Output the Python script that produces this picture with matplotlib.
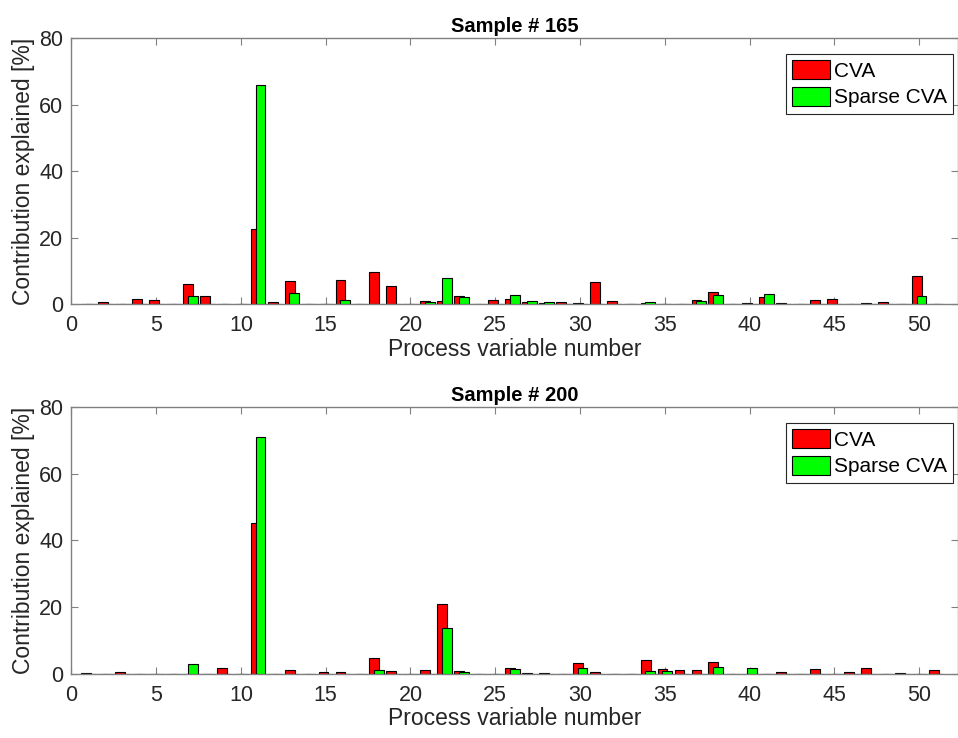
import numpy as np
import matplotlib
matplotlib.use("Agg")
import matplotlib.pyplot as plt

plt.rcParams.update({"font.family": ["Liberation Sans", "DejaVu Sans"], "font.size": 12})

variables = np.arange(1, 52)

# sample 165 (variables 1..51)
cva_165 = [0, 0.7, 0, 1.6, 1.1, 0, 6.0, 2.4, 0, 0,
           22.5, 0.6, 7.0, 0, 0, 7.2, 0, 9.5, 5.4, 0,
           1.0, 1.0, 2.3, 0, 1.1, 1.4, 0.5, 0.4, 0.6, 0.2,
           6.6, 1.0, 0, 0.2, 0, 0, 1.3, 3.7, 0, 0.3,
           2.2, 0.4, 0, 1.1, 1.5, 0, 0.4, 0.6, 0, 8.5,
           0]
scva_165 = [0, 0, 0, 0, 0, 0, 2.3, 0, 0, 0,
            65.8, 0, 3.4, 0, 0, 1.1, 0, 0, 0, 0,
            0.6, 7.8, 2.1, 0, 0, 2.7, 1.0, 0.5, 0, 0,
            0, 0, 0, 0.7, 0, 0, 1.0, 2.7, 0, 0,
            3.1, 0, 0, 0, 0, 0, 0, 0, 0, 2.5,
            0]

# sample 200
cva_200 = [0.3, 0, 0.4, 0, 0, 0, 0, 0, 1.8, 0,
           45.2, 0, 1.0, 0, 0.4, 0.5, 0, 4.6, 0.7, 0,
           1.1, 21.0, 0.7, 0, 0, 1.6, 0.3, 0.3, 0, 3.1,
           0.5, 0, 0, 4.0, 1.5, 1.0, 1.2, 3.5, 0, 0,
           0, 0.4, 0, 1.3, 0, 0.4, 1.7, 0, 0.3, 0,
           1.1]
scva_200 = [0, 0, 0, 0, 0, 0, 3.0, 0, 0, 0,
            71.0, 0, 0, 0, 0, 0, 0, 1.2, 0, 0,
            0, 13.6, 0.5, 0, 0, 1.4, 0, 0, 0, 1.8,
            0, 0, 0, 0.9, 0.9, 0, 0, 2.1, 0, 1.8,
            0, 0, 0, 0, 0, 0, 0, 0, 0, 0,
            0]

panels = [("Sample # 165", cva_165, scva_165), ("Sample # 200", cva_200, scva_200)]
axcol = "#808080"
txtcol = "#262626"

fig = plt.figure(figsize=(9.58, 7.38), dpi=100)
rects = [[0.0746, 0.588, 0.9254, 0.3605], [0.0746, 0.087, 0.9254, 0.3615]]

for (title, cva, scva), r in zip(panels, rects):
    ax = fig.add_axes(r)
    ax.bar(variables - 0.13, cva, width=0.58, color="#ff0000", edgecolor="black", linewidth=0.8, label="CVA", zorder=2)
    ax.bar(variables + 0.15, scva, width=0.58, color="#00ff00", edgecolor="black", linewidth=0.8, label="Sparse CVA", zorder=3)
    ax.set_xlim(0, 52.3); ax.set_ylim(0, 80)
    ax.set_xticks(range(0, 51, 5)); ax.set_yticks(range(0, 81, 20))
    ax.tick_params(direction="in", top=True, right=True, length=5, color=axcol, labelcolor=txtcol, labelsize=15.5)
    ax.tick_params(axis="x", pad=8)
    ax.tick_params(axis="y", pad=6)
    for s in ax.spines.values():
        s.set_color(axcol); s.set_linewidth(1.0)
    ax.set_title(title, fontweight="bold", fontsize=14.5, color="black", pad=4)
    ax.set_xlabel("Process variable number", fontsize=16.5, color=txtcol, labelpad=1)
    ax.set_ylabel("Contribution explained [%]", fontsize=16.5, color=txtcol, labelpad=3)
    leg = ax.legend(loc="upper right", bbox_to_anchor=(0.9944, 0.94), borderaxespad=0,
                    fontsize=15, fancybox=False, framealpha=1, edgecolor=txtcol,
                    handlelength=1.8, handleheight=1.0, handletextpad=0.2, borderpad=0.3, labelspacing=0.3)
    leg.get_frame().set_linewidth(0.8)

fig.savefig("out.png", dpi=100, facecolor="white")
